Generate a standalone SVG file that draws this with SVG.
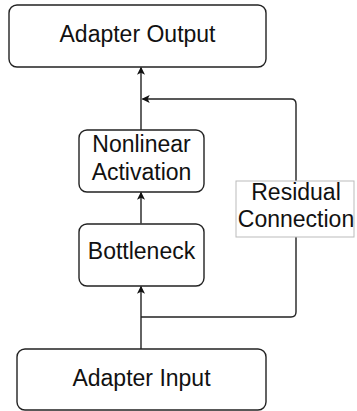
<svg xmlns="http://www.w3.org/2000/svg" width="357" height="411" viewBox="0 0 357 411">
<style>
.box{fill:#fff;stroke:#222;stroke-width:1.4}
.t{font-family:"Liberation Sans",Arial,sans-serif;font-size:23px;fill:#111;text-anchor:middle}
.c{fill:none;stroke:#222;stroke-width:1.4}
</style>
<defs>
<marker id="ah" viewBox="0 0 10 10" refX="9" refY="5" markerWidth="8" markerHeight="8" markerUnits="userSpaceOnUse" orient="auto">
<path d="M0,0 L10,5 L0,10 L2.5,5 Z" fill="#111"/>
</marker>
</defs>
<g id="connectors">
<path class="c" d="M141,349 V286.5" marker-end="url(#ah)"/>
<path class="c" d="M141,223.5 V192.5" marker-end="url(#ah)"/>
<path class="c" d="M141,130 V67.5" marker-end="url(#ah)"/>
<path class="c" d="M141,317 H291 Q296,317 296,312 V104 Q296,99 291,99 H142.5" marker-end="url(#ah)"/>
</g>
<g id="residual-label">
<rect x="236" y="181" width="118" height="56" fill="#fff" stroke="#bbb" stroke-width="1"/>
<text class="t" x="296" y="200">Residual</text>
<text class="t" x="296" y="227">Connection</text>
</g>
<g id="adapter-output">
<rect class="box" x="9" y="5" width="257" height="62" rx="8"/>
<text class="t" x="137.5" y="42">Adapter Output</text>
</g>
<g id="nonlinear-activation">
<rect class="box" x="79" y="130" width="125" height="62" rx="8"/>
<text class="t" x="141.5" y="152">Nonlinear</text>
<text class="t" x="141.5" y="180">Activation</text>
</g>
<g id="bottleneck">
<rect class="box" x="79" y="224" width="125" height="62" rx="8"/>
<text class="t" x="141.5" y="259">Bottleneck</text>
</g>
<g id="adapter-input">
<rect class="box" x="17" y="349" width="249" height="61" rx="8"/>
<text class="t" x="141.5" y="386">Adapter Input</text>
</g>
</svg>
